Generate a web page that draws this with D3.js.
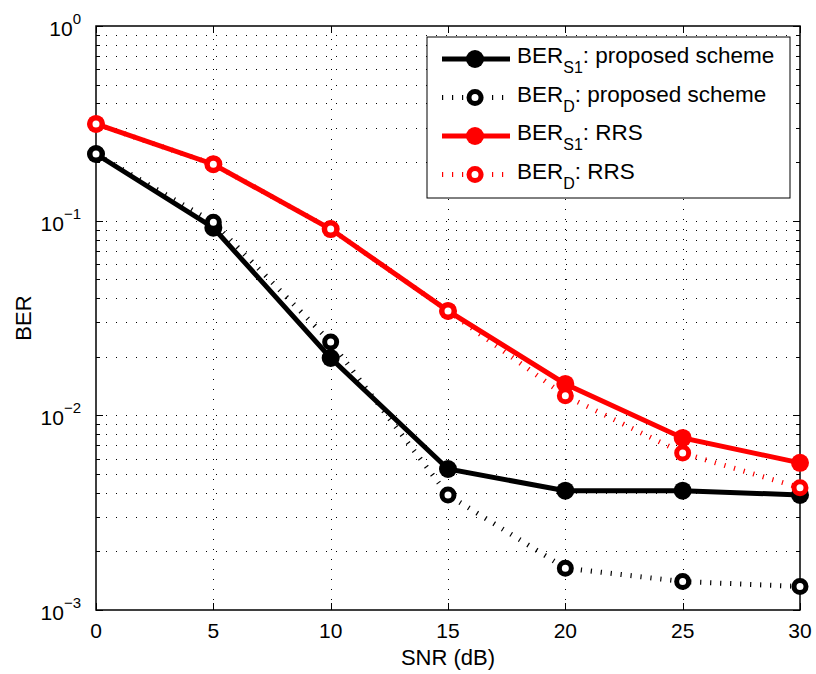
<!DOCTYPE html>
<html>
<head>
<meta charset="utf-8">
<script src="https://cdn.jsdelivr.net/npm/d3@7/dist/d3.min.js"></script>
<style>
  body { margin: 0; background: #fff; }
  text { font-family: "Liberation Sans", Arial, Helvetica, sans-serif; }
</style>
</head>
<body>
<div id="chart"></div>
<script>
const snr = [0, 5, 10, 15, 20, 25, 30];
const berS1Proposed = [0.22, 0.092, 0.0197, 0.0053, 0.0041, 0.0041, 0.0039];
const berDProposed = [0.22, 0.098, 0.0238, 0.0039, 0.00164, 0.0014, 0.00132];
const berS1Rrs = [0.314, 0.195, 0.0906, 0.0344, 0.0145, 0.00765, 0.0057];
const berDRrs = [0.314, 0.195, 0.0906, 0.0344, 0.0126, 0.0064, 0.00425];
const xTicks = [0, 5, 10, 15, 20, 25, 30];
const yDecades = [-3, -2, -1, 0];

const series = [
    { sub: 'S1', label: ': proposed scheme', values: berS1Proposed, color: '#000', dotted: false },
    { sub: 'D', label: ': proposed scheme', values: berDProposed, color: '#000', dotted: true },
    { sub: 'S1', label: ': RRS', values: berS1Rrs, color: '#ff0000', dotted: false },
    { sub: 'D', label: ': RRS', values: berDRrs, color: '#ff0000', dotted: true }
];

const width = 816;
const height = 674;
const margin = { left: 96, right: 16, top: 26, bottom: 64 };
const tickFont = 21;
const labelFont = 22;

const svg = d3.select('#chart').append('svg')
    .attr('width', width)
    .attr('height', height);

const x = d3.scaleLinear()
    .domain([0, 30])
    .range([margin.left, width - margin.right]);

const y = d3.scaleLog()
    .domain([1e-3, 1])
    .range([height - margin.bottom, margin.top]);

const x0 = x.range()[0], x1 = x.range()[1];
const y0 = y.range()[0], y1 = y.range()[1];

// minor + major y values
const yMinor = [];
for (const d of yDecades.slice(0, -1)) {
    for (let k = 2; k <= 9; k++) yMinor.push(k * Math.pow(10, d));
}
const yMajor = yDecades.map(d => Math.pow(10, d));

// grid
const grid = svg.append('g')
    .attr('stroke', '#000')
    .attr('stroke-width', 1)
    .attr('stroke-dasharray', '1,9');

grid.selectAll('.gy')
    .data(yMajor.concat(yMinor).filter(v => v > 1e-3 && v < 1))
    .enter().append('line')
    .attr('x1', x0).attr('x2', x1)
    .attr('y1', d => Math.round(y(d)) + 0.5)
    .attr('y2', d => Math.round(y(d)) + 0.5);

grid.selectAll('.gx')
    .data(xTicks.filter(v => v > 0 && v < 30))
    .enter().append('line')
    .attr('y1', y0).attr('y2', y1)
    .attr('x1', d => Math.round(x(d)) + 0.5)
    .attr('x2', d => Math.round(x(d)) + 0.5);

// tick marks on all sides (inside)
const ticks = svg.append('g').attr('stroke', '#000').attr('stroke-width', 1);
for (const v of xTicks) {
    const px = Math.round(x(v)) + 0.5;
    ticks.append('line').attr('x1', px).attr('x2', px).attr('y1', y0).attr('y2', y0 - 7);
    ticks.append('line').attr('x1', px).attr('x2', px).attr('y1', y1).attr('y2', y1 + 7);
}
for (const v of yMajor) {
    const py = Math.round(y(v)) + 0.5;
    ticks.append('line').attr('x1', x0).attr('x2', x0 + 7).attr('y1', py).attr('y2', py);
    ticks.append('line').attr('x1', x1).attr('x2', x1 - 7).attr('y1', py).attr('y2', py);
}
for (const v of yMinor) {
    const py = Math.round(y(v)) + 0.5;
    ticks.append('line').attr('x1', x0).attr('x2', x0 + 4).attr('y1', py).attr('y2', py);
    ticks.append('line').attr('x1', x1).attr('x2', x1 - 4).attr('y1', py).attr('y2', py);
}

// box
svg.append('rect')
    .attr('x', x0).attr('y', y1)
    .attr('width', x1 - x0).attr('height', y0 - y1)
    .attr('fill', 'none').attr('stroke', '#000').attr('stroke-width', 1.5);

// tick labels
svg.selectAll('.xl')
    .data(xTicks)
    .enter().append('text')
    .attr('x', d => x(d))
    .attr('y', y0 + 28)
    .attr('text-anchor', 'middle')
    .attr('font-size', tickFont)
    .text(d => d);

const yl = svg.selectAll('.yl')
    .data(yDecades)
    .enter().append('text')
    .attr('x', x0 - 15)
    .attr('y', d => y(Math.pow(10, d)) + 10)
    .attr('text-anchor', 'end')
    .attr('font-size', tickFont);
yl.append('tspan').text('10');
yl.append('tspan')
    .attr('dy', -12)
    .attr('font-size', 15)
    .text(d => d === 0 ? '0' : '\u2212' + Math.abs(d));

// axis labels
svg.append('text')
    .attr('x', (x0 + x1) / 2)
    .attr('y', y0 + 55)
    .attr('text-anchor', 'middle')
    .attr('font-size', labelFont)
    .text('SNR (dB)');

svg.append('text')
    .attr('transform', `translate(31,${(y0 + y1) / 2}) rotate(-90)`)
    .attr('text-anchor', 'middle')
    .attr('font-size', labelFont)
    .text('BER');

// lines + markers
const line = d3.line()
    .x((d, i) => x(snr[i]))
    .y(d => y(d));

function drawMarker(g, cx, cy, s) {
    if (s.dotted) {
        g.append('circle')
            .attr('cx', cx).attr('cy', cy).attr('r', 6)
            .attr('fill', '#fff').attr('stroke', s.color).attr('stroke-width', 5);
    } else {
        g.append('circle')
            .attr('cx', cx).attr('cy', cy).attr('r', 9)
            .attr('fill', s.color).attr('stroke', 'none');
    }
}

const plot = svg.append('g');
for (const s of series) {
    const g = plot.append('g');
    g.append('path')
        .datum(s.values)
        .attr('fill', 'none')
        .attr('stroke', s.color)
        .attr('stroke-width', 5)
        .attr('stroke-dasharray', s.dotted ? '1.2,8.8' : null)
        .attr('d', line);
    s.values.forEach((v, i) => drawMarker(g, x(snr[i]), y(v), s));
}

// legend
const lg = svg.append('g');
lg.append('rect')
    .attr('x', 427).attr('y', 37)
    .attr('width', 363).attr('height', 161)
    .attr('fill', '#fff').attr('stroke', '#000').attr('stroke-width', 1);

series.forEach((s, i) => {
    const cy = 59 + i * 38.5;
    lg.append('line')
        .attr('x1', 442).attr('x2', 510)
        .attr('y1', cy).attr('y2', cy)
        .attr('stroke', s.color)
        .attr('stroke-width', 5)
        .attr('stroke-dasharray', s.dotted ? '1.2,8.8' : null);
    drawMarker(lg, 475, cy, s);
    const t = lg.append('text')
        .attr('x', 517)
        .attr('y', cy + 4)
        .attr('font-size', 22.5);
    t.append('tspan').text('BER');
    t.append('tspan').attr('dy', 10).attr('font-size', 16).text(s.sub);
    t.append('tspan').attr('dy', -10).text(s.label);
});
</script>
</body>
</html>
